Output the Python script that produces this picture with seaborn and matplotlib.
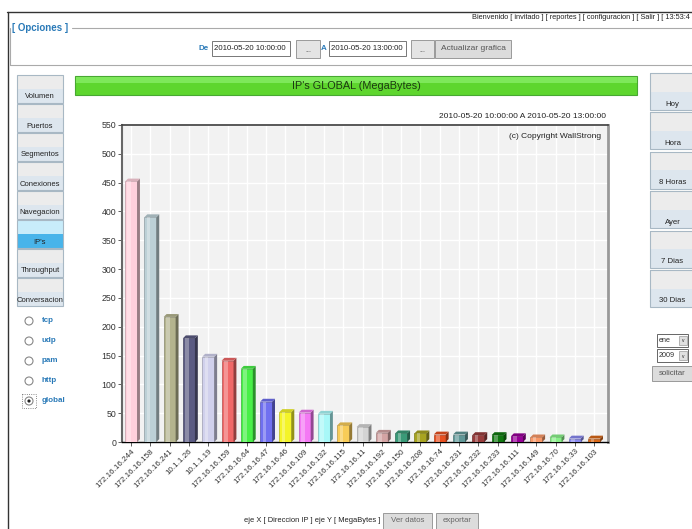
import numpy as np
import pandas as pd
import seaborn as sns
import matplotlib.pyplot as plt
import matplotlib.colors as mcolors
from matplotlib.patches import Rectangle, Polygon, Circle

# datos del grafico
ips = [
    "172.16.16.244", "172.16.16.158", "172.16.16.241", "10.1.1.26", "10.1.1.19",
    "172.16.16.159", "172.16.16.64", "172.16.16.47", "172.16.16.46", "172.16.16.109",
    "172.16.16.132", "172.16.16.115", "172.16.16.11", "172.16.16.192", "172.16.16.150",
    "172.16.16.208", "172.16.16.74", "172.16.16.231", "172.16.16.232", "172.16.16.233",
    "172.16.16.111", "172.16.16.149", "172.16.16.70", "172.16.16.33", "172.16.16.103",
]
megabytes = [452, 390, 217, 180, 148, 141, 127, 70, 52, 51,
             49, 29, 26, 16, 15, 15, 13, 13, 12, 12,
             10, 8, 8, 6, 6]
bar_colors = [
    "#ffd0dc", "#bcd0d6", "#b4b48e", "#5a5a82", "#d0d0ec",
    "#f06868", "#48f048", "#7070f0", "#f4f428", "#f478f4",
    "#a8f8f8", "#f8cc58", "#d4d4d4", "#d4a4a4", "#3a9a78",
    "#a8a420", "#e85020", "#609898", "#983c3c", "#107810",
    "#980098", "#f89868", "#88f088", "#8888f0", "#d86818",
]

W, H = 692, 529
BLUE = "#2a7ab8"


def set_config():
    sns.set_theme(style="white")
    plt.rcParams["font.family"] = ["Liberation Sans Narrow", "Liberation Sans", "DejaVu Sans"]


def shade(color, f):
    r, g, b = mcolors.to_rgb(color)
    if f < 1:
        return (r * f, g * f, b * f)
    return (r + (1 - r) * (f - 1), g + (1 - g) * (f - 1), b + (1 - b) * (f - 1))


def box(page, x, y, w, h, fc="#e4e4e4", ec="#9a9a9a", lw=0.7):
    page.add_patch(Rectangle((x, y), w, h, fc=fc, ec=ec, lw=lw))


def button(page, x, y, w, h, label, active=False, size=5.6):
    # boton con dos tonos, el texto abajo
    top, bottom = ("#c8ecfa", "#48b4ea") if active else ("#ececec", "#dde6ee")
    page.add_patch(Rectangle((x, y), w, h / 2, fc=top, ec="none"))
    page.add_patch(Rectangle((x, y + h / 2), w, h / 2, fc=bottom, ec="none"))
    page.add_patch(Rectangle((x, y), w, h, fc="none", ec="#a8b8c4", lw=0.8))
    page.text(x + w / 2, y + h - 6, label, ha="center", va="center", fontsize=size, color="#222")


def draw_page(page):
    # marcos
    page.plot([7, W], [12, 12], color="#333", lw=1)
    page.plot([8, 8], [12, H], color="#333", lw=1)
    page.plot([72, W], [28, 28], color="#aaa", lw=0.8)
    page.plot([10, 10], [28, 65], color="#aaa", lw=0.8)
    page.plot([10, W], [65, 65], color="#aaa", lw=0.8)
    page.text(12, 28, "[ Opciones ]", color=BLUE, fontsize=7, fontweight="bold", va="center")
    page.text(690, 17.5, "Bienvenido [ invitado ] [ reportes ] [ configuracion ] [ Salir ] [ 13:53:4",
              ha="right", va="center", fontsize=5.3, color="#222")

    # fechas
    page.text(209, 48.5, "De", ha="right", va="center", color=BLUE, fontsize=5.8, fontweight="bold")
    box(page, 212, 41, 78, 15, fc="white", ec="#777")
    page.text(214, 48.5, "2010-05-20 10:00:00", va="center", fontsize=5.6, color="#222")
    box(page, 296, 40, 24, 18)
    page.text(308, 50, "...", ha="center", va="center", fontsize=5, color="#444")
    page.text(327, 48.5, "A", ha="right", va="center", color=BLUE, fontsize=5.8, fontweight="bold")
    box(page, 329, 41, 77, 15, fc="white", ec="#777")
    page.text(331, 48.5, "2010-05-20 13:00:00", va="center", fontsize=5.6, color="#222")
    box(page, 411, 40, 23, 18)
    page.text(422.5, 50, "...", ha="center", va="center", fontsize=5, color="#444")
    box(page, 435, 40, 76, 18, fc="#dcdcdc")
    page.text(473, 49, "Actualizar grafica", ha="center", va="center", fontsize=6, color="#555")

    # menu izquierdo
    menu = ["Volumen", "Puertos", "Segmentos", "Conexiones", "Navegacion", "IP's", "Throughput", "Conversacion"]
    for i, name in enumerate(menu):
        button(page, 17, 75 + i * 29, 46, 28, name, active=(name == "IP's"), size=5.5)

    radios = ["tcp", "udp", "pam", "http", "global"]
    for i, name in enumerate(radios):
        y = 321 + i * 20
        page.add_patch(Circle((29, y), 4, fc="white", ec="#888", lw=0.8))
        page.text(42, y, name, va="center", fontsize=5.8, color=BLUE, fontweight="bold")
        if name == "global":
            page.add_patch(Circle((29, y), 1.6, fc="#222", ec="none"))
            page.add_patch(Rectangle((22, y - 7), 14, 14, fc="none", ec="#666", lw=0.6, ls=":"))

    # menu derecho
    periods = ["Hoy", "Hora", "8 Horas", "Ayer", "7 Dias", "30 Dias"]
    for i, name in enumerate(periods):
        button(page, 650, 73 + i * 39.4, 45, 37, name, size=5.6)

    for y, txt in [(334, "ene"), (349, "2009")]:
        box(page, 657, y, 31, 13, fc="white", ec="#666")
        box(page, 679, y + 2, 8, 9, fc="#e0e0e0", ec="#999", lw=0.5)
        page.text(659, y + 6.5, txt, va="center", fontsize=5.2, color="#333")
        page.text(683, y + 7, "v", ha="center", va="center", fontsize=3.5, color="#222")
    box(page, 652, 366, 40, 15, fc="#dcdcdc")
    page.text(672, 373.5, "solicitar", ha="center", va="center", fontsize=5.7, color="#555")

    # titulo verde
    page.add_patch(Rectangle((75, 76), 562, 19, fc="#5ed62e", ec="#48a832", lw=0.8))
    page.add_patch(Rectangle((75.5, 76.5), 561, 6, fc="#7ee85a", ec="none"))
    page.text(356, 86, "IP's GLOBAL (MegaBytes)", ha="center", va="center", fontsize=7.8, color="#1c3a12")
    page.text(606, 117, "2010-05-20 10:00:00 A 2010-05-20 13:00:00", ha="right", va="center",
              fontsize=6, color="#222")

    # pie
    page.text(380, 521, "eje X [ Direccion IP ] eje Y [ MegaBytes ]", ha="right", va="center",
              fontsize=5.4, color="#222")
    box(page, 383, 513, 49, 16, fc="#dcdcdc")
    page.text(407.5, 521, "Ver datos", ha="center", va="center", fontsize=5.7, color="#666")
    box(page, 436, 513, 42, 16, fc="#dcdcdc")
    page.text(457, 521, "exportar", ha="center", va="center", fontsize=5.7, color="#666")


def draw_chart(ax):
    df = pd.DataFrame({"ip": ips, "mb": megabytes})
    sns.barplot(data=df, x="ip", y="mb", hue="ip", palette=dict(zip(ips, bar_colors)),
                legend=False, width=0.62, saturation=1, ax=ax, zorder=3)

    ax.set_xlim(-0.47, len(ips) - 0.28)
    ax.set_ylim(0, 550)
    ax.set_yticks(np.arange(0, 551, 50))
    ax.set_facecolor("#f2f2f2")
    ax.grid(True, color="white", lw=1, zorder=0)
    ax.set_axisbelow(True)

    # efecto 3D
    dx, dy = 0.15, 5
    for p in list(ax.patches):
        x0, w, h = p.get_x(), p.get_width(), p.get_height()
        c = p.get_facecolor()
        p.set_edgecolor(shade(c, 0.75))
        p.set_linewidth(0.5)
        ax.add_patch(Polygon([(x0 + w, 0), (x0 + w + dx, dy), (x0 + w + dx, h + dy), (x0 + w, h)],
                             closed=True, fc=shade(c, 0.6), ec="none", zorder=3))
        ax.add_patch(Polygon([(x0, h), (x0 + dx, h + dy), (x0 + w + dx, h + dy), (x0 + w, h)],
                             closed=True, fc=shade(c, 0.85), ec="none", zorder=3))
        ax.add_patch(Rectangle((x0 + 0.2 * w, 0), 0.3 * w, h, fc="white", alpha=0.3, ec="none", zorder=4))

    ax.set_xlabel("")
    ax.set_ylabel("")
    ax.tick_params(axis="both", bottom=True, left=True, direction="out", length=3, width=0.6,
                   color="#444", labelsize=6.3, labelcolor="#333", pad=1)
    plt.setp(ax.get_xticklabels(), rotation=45, ha="right", rotation_mode="anchor", fontsize=5.8)

    ax.spines["top"].set_color("#444")
    ax.spines["left"].set_color("#666")
    ax.spines["left"].set_linewidth(1.5)
    ax.spines["right"].set_color("#999")
    ax.spines["right"].set_linewidth(2)
    ax.spines["bottom"].set_color("black")
    ax.spines["bottom"].set_linewidth(1)

    ax.text(0.985, 0.975, "(c) Copyright WallStrong", transform=ax.transAxes, ha="right", va="top",
            fontsize=6, color="#222")


def main():
    set_config()
    fig = plt.figure(figsize=(W / 100, H / 100), dpi=100)
    fig.patch.set_facecolor("white")

    page = fig.add_axes([0, 0, 1, 1], zorder=0)
    page.set_xlim(0, W)
    page.set_ylim(H, 0)
    page.axis("off")
    draw_page(page)

    ax = fig.add_axes([122 / W, (H - 442) / H, 486 / W, 317 / H], zorder=1)
    draw_chart(ax)

    fig.savefig("out.png", dpi=100)


if __name__ == "__main__":
    main()
